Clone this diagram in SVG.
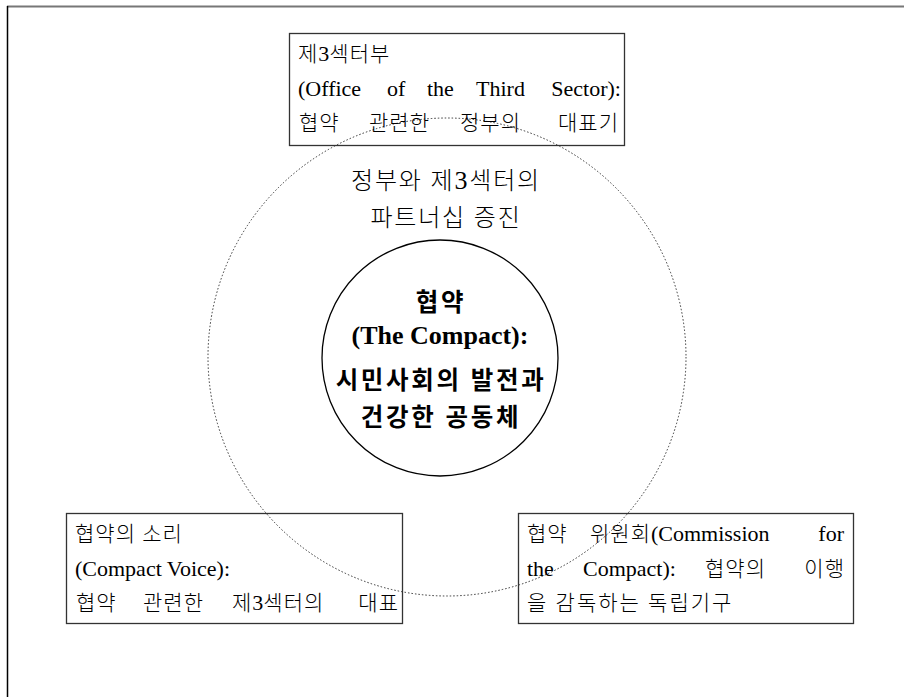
<svg xmlns="http://www.w3.org/2000/svg" width="904" height="697" viewBox="0 0 904 697">
<style>
.t{font-family:"Liberation Serif","Noto Sans CJK KR",serif;font-size:21px;font-weight:300;letter-spacing:1px;fill:#000}
.l{font-size:22px;letter-spacing:0}
.c{font-size:24px;letter-spacing:1.8px}
.b{font-family:"Liberation Serif","Noto Sans CJK KR",serif;font-weight:bold;font-size:24.5px;letter-spacing:2.7px;fill:#000}
.bl{font-size:26px;letter-spacing:0}
.box{fill:none;stroke:#333;stroke-width:1.3}
.e{text-anchor:end}
.m{text-anchor:middle}
</style>
<rect width="904" height="697" fill="#fff"/>
<g id="frame">
<line x1="7" y1="6.5" x2="904" y2="6.5" stroke="#777" stroke-width="2"/>
<line x1="7.5" y1="6" x2="7.5" y2="697" stroke="#000" stroke-width="1.5"/>
</g>
<g id="partnership">
<circle cx="447" cy="357" r="239" fill="none" stroke="#333" stroke-width="1" stroke-dasharray="1.5 2"/>
<text class="t c m" x="446" y="189">정부와 제<tspan style="font-size:26px">3</tspan>섹터의</text>
<text class="t c m" x="446" y="226">파트너십 증진</text>
</g>
<g id="compact">
<circle cx="440" cy="358" r="118" fill="none" stroke="#000" stroke-width="1.3"/>
<text class="b m" x="441" y="311">협약</text>
<text class="b bl m" x="440" y="344">(The Compact):</text>
<text class="b m" x="441" y="389">시민사회의 발전과</text>
<text class="b m" x="441" y="426">건강한 공동체</text>
</g>
<g id="office">
<rect class="box" x="289.5" y="33.5" width="335" height="112"/>
<text class="t" x="298" y="61">제<tspan class="l">3</tspan>섹터부</text>
<text class="t l" x="298" y="96">(Office</text>
<text class="t l" x="387" y="96">of</text>
<text class="t l" x="427" y="96">the</text>
<text class="t l" x="476" y="96">Third</text>
<text class="t l e" x="621" y="96">Sector):</text>
<text class="t" x="299" y="130">협약</text>
<text class="t" x="369" y="130">관련한</text>
<text class="t" x="460" y="130">정부의</text>
<text class="t e" x="619" y="130">대표기</text>
</g>
<g id="voice">
<rect class="box" x="66.5" y="513.5" width="336" height="110"/>
<text class="t" x="75" y="541">협약의 소리</text>
<text class="t l" x="75" y="576">(Compact Voice):</text>
<text class="t" x="76" y="610">협약</text>
<text class="t" x="143" y="610">관련한</text>
<text class="t" x="232" y="610">제<tspan class="l">3</tspan>섹터의</text>
<text class="t e" x="399" y="610">대표</text>
</g>
<g id="commission">
<rect class="box" x="518.5" y="513.5" width="335" height="110"/>
<text class="t" x="527" y="541">협약</text>
<text class="t" x="590" y="541">위원회<tspan class="l">(Commission</tspan></text>
<text class="t l e" x="844" y="541">for</text>
<text class="t l" x="527" y="576">the</text>
<text class="t l" x="583" y="576">Compact):</text>
<text class="t" x="705" y="576">협약의</text>
<text class="t e" x="845" y="576">이행</text>
<text class="t" x="527" y="610" style="letter-spacing:2px">을 감독하는 독립기구</text>
</g>
<g id="connectors"/>
</svg>
